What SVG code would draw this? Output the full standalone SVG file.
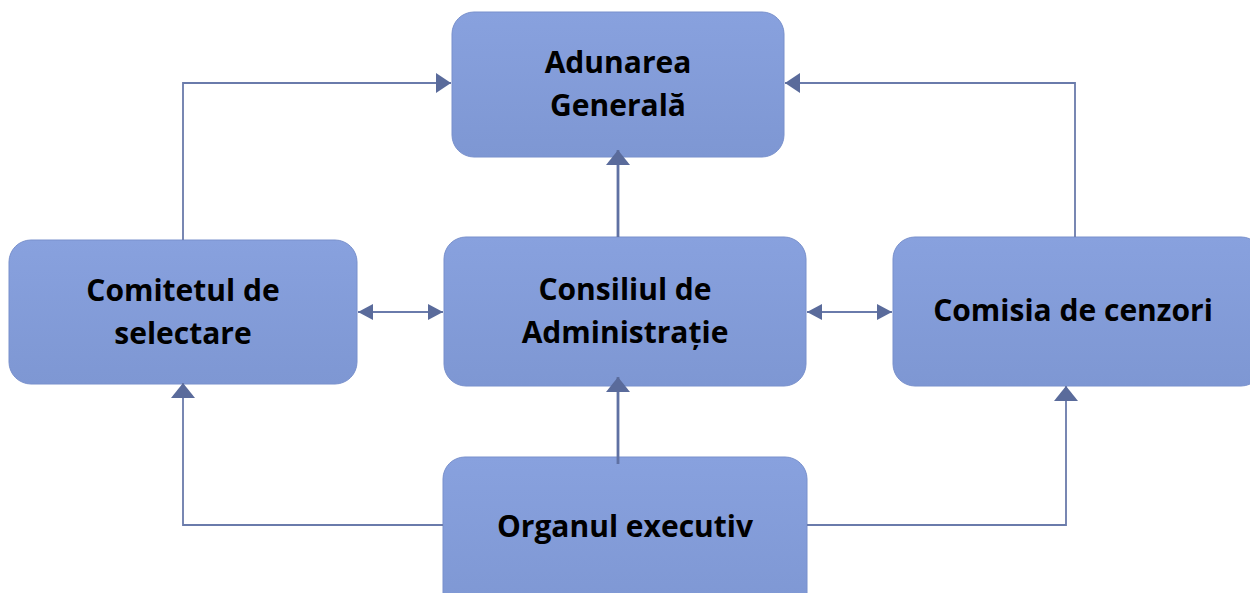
<svg xmlns="http://www.w3.org/2000/svg" width="1250" height="593" viewBox="0 0 1250 593">
<defs>
<linearGradient id="g" x1="0" y1="0" x2="0" y2="1">
<stop offset="0" stop-color="#88a1de"/>
<stop offset="1" stop-color="#7e97d3"/>
</linearGradient>
<marker id="big" viewBox="0 0 15 24" refX="15" refY="12" markerWidth="15" markerHeight="24" markerUnits="userSpaceOnUse" orient="auto-start-reverse">
<path d="M0,0 L15,12 L0,24 Z" fill="#5a6b9b"/>
</marker>
<marker id="mid" viewBox="0 0 15 20" refX="15" refY="10" markerWidth="15" markerHeight="20" markerUnits="userSpaceOnUse" orient="auto-start-reverse">
<path d="M0,0 L15,10 L0,20 Z" fill="#5a6b9b"/>
</marker>
<marker id="sm" viewBox="0 0 15 16" refX="15" refY="8" markerWidth="15" markerHeight="16" markerUnits="userSpaceOnUse" orient="auto-start-reverse">
<path d="M0,0 L15,8 L0,16 Z" fill="#5a6b9b"/>
</marker>
</defs>
<style>
.box{fill:url(#g);stroke:#7890cc;stroke-width:1}
.t{font-family:"Open Sans","Liberation Sans",sans-serif;font-weight:bold;font-size:30px;fill:#000;text-anchor:middle}
.c{fill:none;stroke:#6a7bab;stroke-width:1.8}
.c2{fill:none;stroke:#5f71a3;stroke-width:2.8}
</style>
<rect width="1250" height="593" fill="#fff"/>
<g id="n-adunarea">
<rect class="box" x="452" y="12" width="332" height="145" rx="22"/>
<text class="t" x="618" y="73">Adunarea</text>
<text class="t" x="618" y="116">Generală</text>
</g>
<g id="n-comitetul">
<rect class="box" x="9" y="240" width="348" height="144" rx="22"/>
<text class="t" x="183" y="301">Comitetul de</text>
<text class="t" x="183" y="344">selectare</text>
</g>
<g id="n-consiliul">
<rect class="box" x="444" y="237" width="362" height="149" rx="22"/>
<text class="t" x="625" y="300">Consiliul de</text>
<text class="t" x="625" y="343">Administrație</text>
</g>
<g id="n-comisia">
<rect class="box" x="893" y="237" width="370" height="149" rx="22"/>
<text class="t" x="1073" y="321">Comisia de cenzori</text>
</g>
<g id="n-organul">
<rect class="box" x="443" y="457" width="364" height="160" rx="22"/>
<text class="t" x="625" y="537">Organul executiv</text>
</g>
<g id="connectors">
<path class="c" d="M183,240 V83 H451" marker-end="url(#mid)"/>
<path class="c" d="M1075,237 V83 H785" marker-end="url(#mid)"/>
<path class="c2" d="M618,237 V150" marker-end="url(#big)"/>
<line class="c" x1="358" y1="312" x2="443" y2="312" marker-start="url(#sm)" marker-end="url(#sm)"/>
<line class="c" x1="807" y1="312" x2="892" y2="312" marker-start="url(#sm)" marker-end="url(#sm)"/>
<path class="c2" d="M618,464 V377" marker-end="url(#big)"/>
<path class="c" d="M443,525 H183 V383" marker-end="url(#big)"/>
<path class="c" d="M807,525 H1066 V386" marker-end="url(#big)"/>
</g>
</svg>
